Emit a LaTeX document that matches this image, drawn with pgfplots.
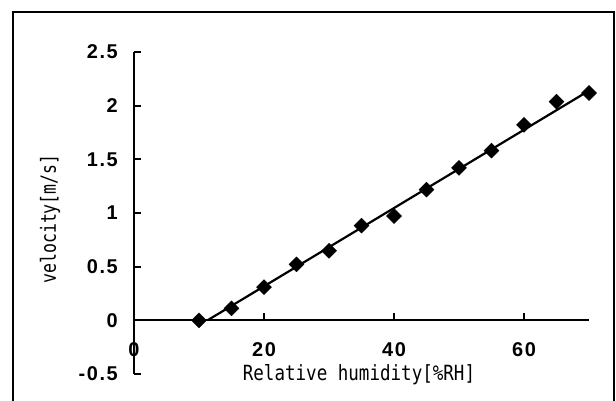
\documentclass[border=0pt]{standalone}
\usepackage{pgfplots}
\pgfplotsset{compat=1.18}
\usepackage{fontspec}
\setmainfont{Liberation Sans}
\newfontfamily\labelfont{DejaVu Sans Mono}
\newfontfamily\tickfont[LetterSpace=8]{Liberation Sans}
\begin{document}
\begin{tikzpicture}[x=1bp,y=1bp]
\useasboundingbox (0,0) rectangle (616,400);
\draw[line width=2bp] (13,-20) -- (13,388) -- (614,388) -- (614,-20);
\begin{axis}[
  at={(134bp,26bp)}, anchor=south west,
  scale only axis, width=455bp, height=322bp,
  xmin=0, xmax=70, ymin=-0.5, ymax=2.5,
  enlargelimits=false,
  axis x line=middle, axis y line=left,
  axis line style={-, line width=2.2bp, black},
  xtick={0,20,40,60},
  ytick={-0.5,0,0.5,1,1.5,2,2.5},
  hide obscured x ticks=false, hide obscured y ticks=false,
  xtick align=inside, ytick align=inside,
  major tick length=7bp,
  tick style={line width=2.2bp, black},
  /pgf/number format/assume math mode=true,
  ticklabel style={font=\tickfont\bfseries\fontsize{20}{20}\selectfont, inner sep=0pt},
  yticklabel style={anchor=east, xshift=-16bp},
  xticklabel style={anchor=center, yshift=-29bp},
  clip=false,
]
\addplot[no marks, black, line width=2.2bp] coordinates {(11.3,0) (70,2.14)};
\addplot[only marks, mark=square*, mark size=5.3bp, mark options={rotate=45, fill=black, draw=black}] coordinates {
(10,0.0) (15,0.111) (20,0.309) (25,0.522) (30,0.648) (35,0.883) (40,0.972)
(45,1.217) (50,1.420) (55,1.581) (60,1.821) (65,2.037) (70,2.118)};
\end{axis}
\node at (359,25) {\scalebox{0.88}[1.05]{\labelfont\fontsize{20}{20}\selectfont Relative humidity[\%RH]}};
\node[rotate=90] at (50,181) {\scalebox{0.83}[1.05]{\labelfont\fontsize{20}{20}\selectfont velocity[m/s]}};
\end{tikzpicture}
\end{document}
